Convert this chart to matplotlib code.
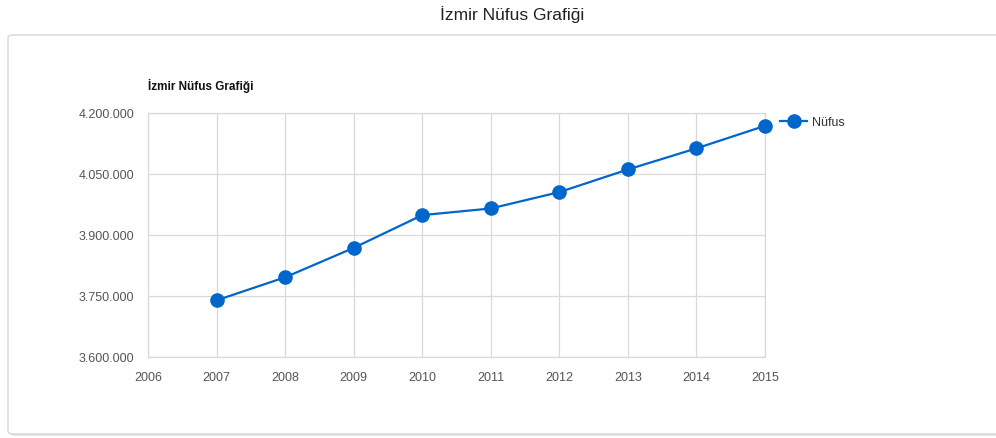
import matplotlib.pyplot as plt
from matplotlib.patches import FancyBboxPatch
from matplotlib.ticker import FuncFormatter

# Izmir population by year
years = [2007, 2008, 2009, 2010, 2011, 2012, 2013, 2014, 2015]
nufus = [3739353, 3795978, 3868308, 3948848, 3965232, 4005459, 4061074, 4113072, 4168415]
x_ticks = list(range(2006, 2016))
y_ticks = [3600000, 3750000, 3900000, 4050000, 4200000]

plt.rcParams['font.family'] = ['Liberation Sans Narrow', 'Liberation Sans', 'DejaVu Sans']

blue = '#0066cc'
grid_col = '#d9d9d9'
tick_col = '#555555'

fig = plt.figure(figsize=(9.96, 4.39), dpi=100)
fig.patch.set_facecolor('white')

# card behind the chart
shadow = FancyBboxPatch((10 / 996, 2 / 439), 1.2, 399 / 439,
                        boxstyle='round,pad=0,rounding_size=0.006',
                        transform=fig.transFigure, facecolor='#e4e4e4',
                        edgecolor='none', zorder=-2)
card = FancyBboxPatch((8 / 996, 4 / 439), 1.2, 399 / 439,
                      boxstyle='round,pad=0,rounding_size=0.006',
                      transform=fig.transFigure, facecolor='white',
                      edgecolor='#d6d6d6', linewidth=1, zorder=-1)
fig.patches.extend([shadow, card])

fig.text(512 / 996, 1 - 15 / 439, 'İzmir Nüfus Grafiği', ha='center', va='center',
         fontsize=12.5, color='#222222')

ax = fig.add_axes([148 / 996, 1 - 358 / 439, 617 / 996, 244 / 439])
ax.set_zorder(2)
ax.set_facecolor('white')

ax.plot(years, nufus, color=blue, linewidth=1.6, marker='o', markersize=9.5,
        markerfacecolor=blue, markeredgecolor=blue, label='Nüfus', zorder=3,
        clip_on=False)

ax.set_xlim(2006, 2015)
ax.set_ylim(3600000, 4200000)
ax.set_xticks(x_ticks)
ax.set_yticks(y_ticks)
ax.yaxis.set_major_formatter(FuncFormatter(lambda v, p: f'{int(v):,}'.replace(',', '.')))
ax.grid(True, color=grid_col, linewidth=0.9, zorder=0)
for s in ax.spines.values():
    s.set_color(grid_col)
    s.set_linewidth(0.9)
ax.tick_params(length=0, colors=tick_col, labelsize=9, pad=10)
ax.tick_params(axis='y', pad=10)

ax.text(0, 1.115, 'İzmir Nüfus Grafiği', transform=ax.transAxes, ha='left',
        va='center', fontsize=8.5, fontweight='bold', color='#111111')

leg = ax.legend(loc='upper left', bbox_to_anchor=(1.016, 1.008), frameon=False,
                fontsize=9, handlelength=2.2, handletextpad=0.4, borderaxespad=0)
for t in leg.get_texts():
    t.set_color('#333333')

fig.savefig('out.png', dpi=100, facecolor='white')
